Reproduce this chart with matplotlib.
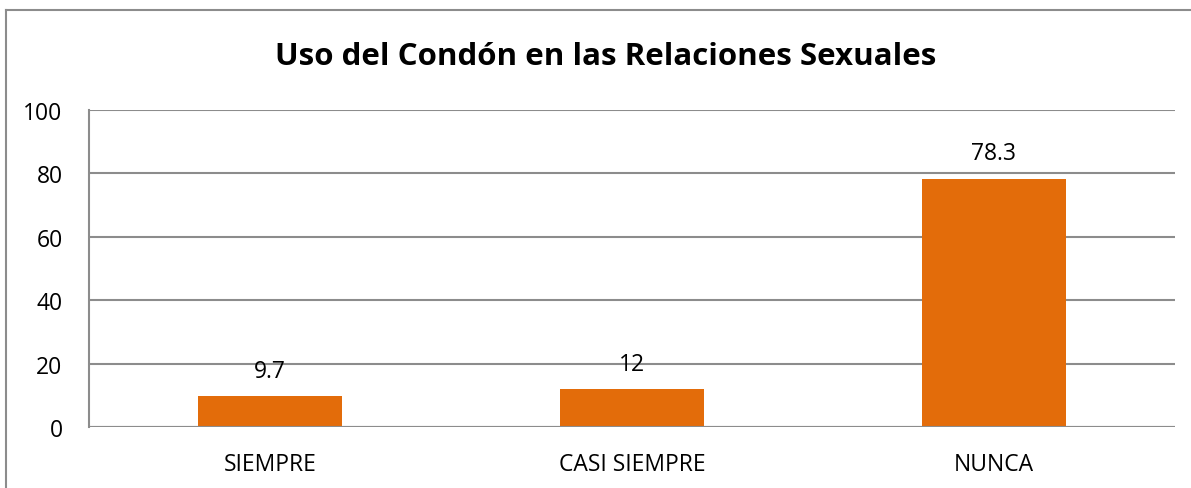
import matplotlib.pyplot as plt
from matplotlib.lines import Line2D

categories = ['SIEMPRE', 'CASI SIEMPRE', 'NUNCA']
values = [9.7, 12, 78.3]
value_labels = ['9.7', '12', '78.3']
yticks = [0, 20, 40, 60, 80, 100]

plt.rcParams['font.family'] = ['Open Sans', 'DejaVu Sans']

fig = plt.figure(figsize=(11.91, 4.89), dpi=100)
ax = fig.add_axes([89 / 1191, 1 - 428 / 489, (1175 - 89) / 1191, (428 - 111) / 489])

grid_col = '#8c8c8c'
x = range(len(categories))
bars = ax.bar(x, values, width=0.4, color='#E36C0A', zorder=3)

for b, lab in zip(bars, value_labels):
    ax.annotate(lab, (b.get_x() + b.get_width() / 2, b.get_height()),
                xytext=(0, 14), textcoords='offset points',
                ha='center', va='baseline', fontsize=16.5)

ax.set_xlim(-0.5, len(categories) - 0.5)
ax.set_ylim(0, 100)
ax.set_yticks(yticks)
ax.set_xticks(list(x))
ax.set_xticklabels(categories)
ax.tick_params(axis='both', length=0, labelsize=16.5)
ax.tick_params(axis='y', pad=19)
ax.tick_params(axis='x', pad=18)
ax.yaxis.grid(True, color=grid_col, linewidth=1.5, zorder=0)
for s in ['top', 'right', 'bottom']:
    ax.spines[s].set_visible(False)
ax.spines['left'].set_color(grid_col)
ax.spines['left'].set_linewidth(1.5)
ax.axhline(0, color=grid_col, linewidth=1.5, zorder=4)

fig.text(606 / 1191, 1 - 57 / 489, 'Uso del Condón en las Relaciones Sexuales',
         ha='center', va='center', fontsize=22.5, fontweight='bold')

# chart frame (only left and top edges visible in the crop)
fig.add_artist(Line2D([6 / 1191, 6 / 1191], [0, 1 - 11 / 489], color='#8c8c8c', linewidth=1.5))
fig.add_artist(Line2D([6 / 1191, 1], [1 - 11 / 489, 1 - 11 / 489], color='#8c8c8c', linewidth=1.5))

fig.savefig('out.png', dpi=100)
